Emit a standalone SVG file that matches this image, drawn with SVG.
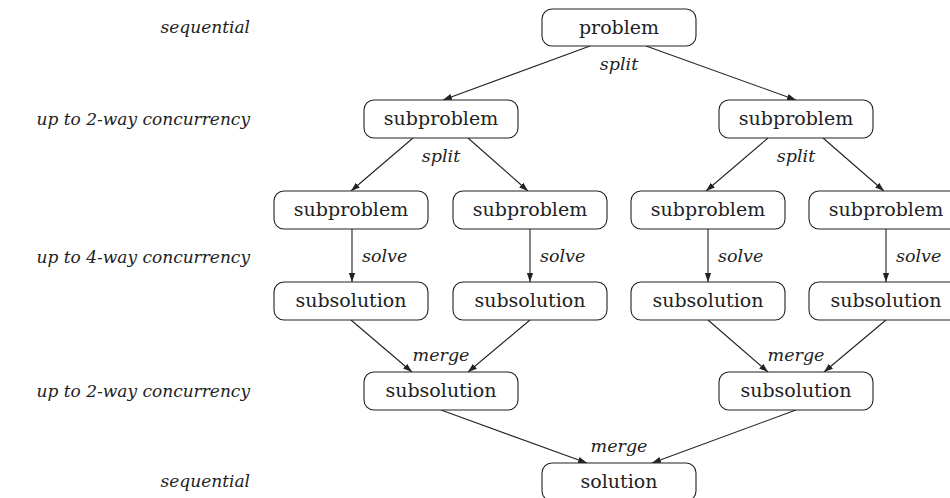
<svg xmlns="http://www.w3.org/2000/svg" width="950" height="498" viewBox="0 0 950 498">
<style>
.box{fill:#fff;stroke:#222;stroke-width:1.1}
.t{font-family:"DejaVu Serif","Liberation Serif",serif;font-size:19px;fill:#222;text-anchor:middle}
.lab{font-family:"DejaVu Serif","Liberation Serif",serif;font-size:17.5px;font-style:italic;fill:#222}
.side{text-anchor:end;font-size:17px}
.el{text-anchor:middle}
.edge{stroke:#222;stroke-width:1.1;fill:none;marker-end:url(#ah)}
</style>
<defs>
<marker id="ah" viewBox="0 0 10 10" refX="10" refY="5" markerWidth="9" markerHeight="9" markerUnits="userSpaceOnUse" orient="auto">
<path d="M0,1.5 L10,5 L0,8.5 z" fill="#222"/>
</marker>
</defs>
<rect width="950" height="498" fill="#fff"/>
<g id="side-labels">
<text class="lab side" x="250" y="33">sequential</text>
<text class="lab side" x="250" y="125">up to 2-way concurrency</text>
<text class="lab side" x="250" y="263">up to 4-way concurrency</text>
<text class="lab side" x="250" y="397">up to 2-way concurrency</text>
<text class="lab side" x="250" y="487">sequential</text>
</g>
<g id="connectors">
<line class="edge" x1="590" y1="46" x2="443" y2="100"/>
<line class="edge" x1="646" y1="46" x2="796" y2="100"/>
<line class="edge" x1="413" y1="138" x2="351" y2="191"/>
<line class="edge" x1="468" y1="138" x2="528" y2="191"/>
<line class="edge" x1="768" y1="138" x2="706" y2="191"/>
<line class="edge" x1="823" y1="138" x2="884" y2="191"/>
<line class="edge" x1="352" y1="229" x2="352" y2="282"/>
<line class="edge" x1="530" y1="229" x2="530" y2="282"/>
<line class="edge" x1="708" y1="229" x2="708" y2="282"/>
<line class="edge" x1="886" y1="229" x2="886" y2="282"/>
<line class="edge" x1="351" y1="320" x2="412" y2="372"/>
<line class="edge" x1="530" y1="320" x2="468" y2="372"/>
<line class="edge" x1="708" y1="320" x2="768" y2="372"/>
<line class="edge" x1="886" y1="320" x2="824" y2="372"/>
<line class="edge" x1="441" y1="410" x2="587" y2="463"/>
<line class="edge" x1="796" y1="410" x2="652" y2="463"/>
<text class="lab el" x="619" y="70">split</text>
<text class="lab el" x="441" y="162">split</text>
<text class="lab el" x="796" y="162">split</text>
<text class="lab" x="362" y="262">solve</text>
<text class="lab" x="540" y="262">solve</text>
<text class="lab" x="718" y="262">solve</text>
<text class="lab" x="896" y="262">solve</text>
<text class="lab el" x="441" y="361">merge</text>
<text class="lab el" x="796" y="361">merge</text>
<text class="lab el" x="619" y="452">merge</text>
</g>
<g id="n-problem"><rect class="box" x="542" y="9" width="154" height="37" rx="10"/><text class="t" x="619" y="34">problem</text></g>
<g id="n-sp-l"><rect class="box" x="364" y="100" width="154" height="38" rx="10"/><text class="t" x="441" y="125">subproblem</text></g>
<g id="n-sp-r"><rect class="box" x="719" y="100" width="154" height="38" rx="10"/><text class="t" x="796" y="125">subproblem</text></g>
<g id="n-sp-1"><rect class="box" x="274" y="191" width="154" height="38" rx="10"/><text class="t" x="351" y="216">subproblem</text></g>
<g id="n-sp-2"><rect class="box" x="453" y="191" width="154" height="38" rx="10"/><text class="t" x="530" y="216">subproblem</text></g>
<g id="n-sp-3"><rect class="box" x="631" y="191" width="154" height="38" rx="10"/><text class="t" x="708" y="216">subproblem</text></g>
<g id="n-sp-4"><rect class="box" x="809" y="191" width="154" height="38" rx="10"/><text class="t" x="886" y="216">subproblem</text></g>
<g id="n-ss-1"><rect class="box" x="274" y="282" width="154" height="38" rx="10"/><text class="t" x="351" y="307">subsolution</text></g>
<g id="n-ss-2"><rect class="box" x="453" y="282" width="154" height="38" rx="10"/><text class="t" x="530" y="307">subsolution</text></g>
<g id="n-ss-3"><rect class="box" x="631" y="282" width="154" height="38" rx="10"/><text class="t" x="708" y="307">subsolution</text></g>
<g id="n-ss-4"><rect class="box" x="809" y="282" width="154" height="38" rx="10"/><text class="t" x="886" y="307">subsolution</text></g>
<g id="n-ss-l"><rect class="box" x="364" y="372" width="154" height="38" rx="10"/><text class="t" x="441" y="397">subsolution</text></g>
<g id="n-ss-r"><rect class="box" x="719" y="372" width="154" height="38" rx="10"/><text class="t" x="796" y="397">subsolution</text></g>
<g id="n-solution"><rect class="box" x="542" y="463" width="154" height="38" rx="10"/><text class="t" x="619" y="488">solution</text></g>
</svg>
